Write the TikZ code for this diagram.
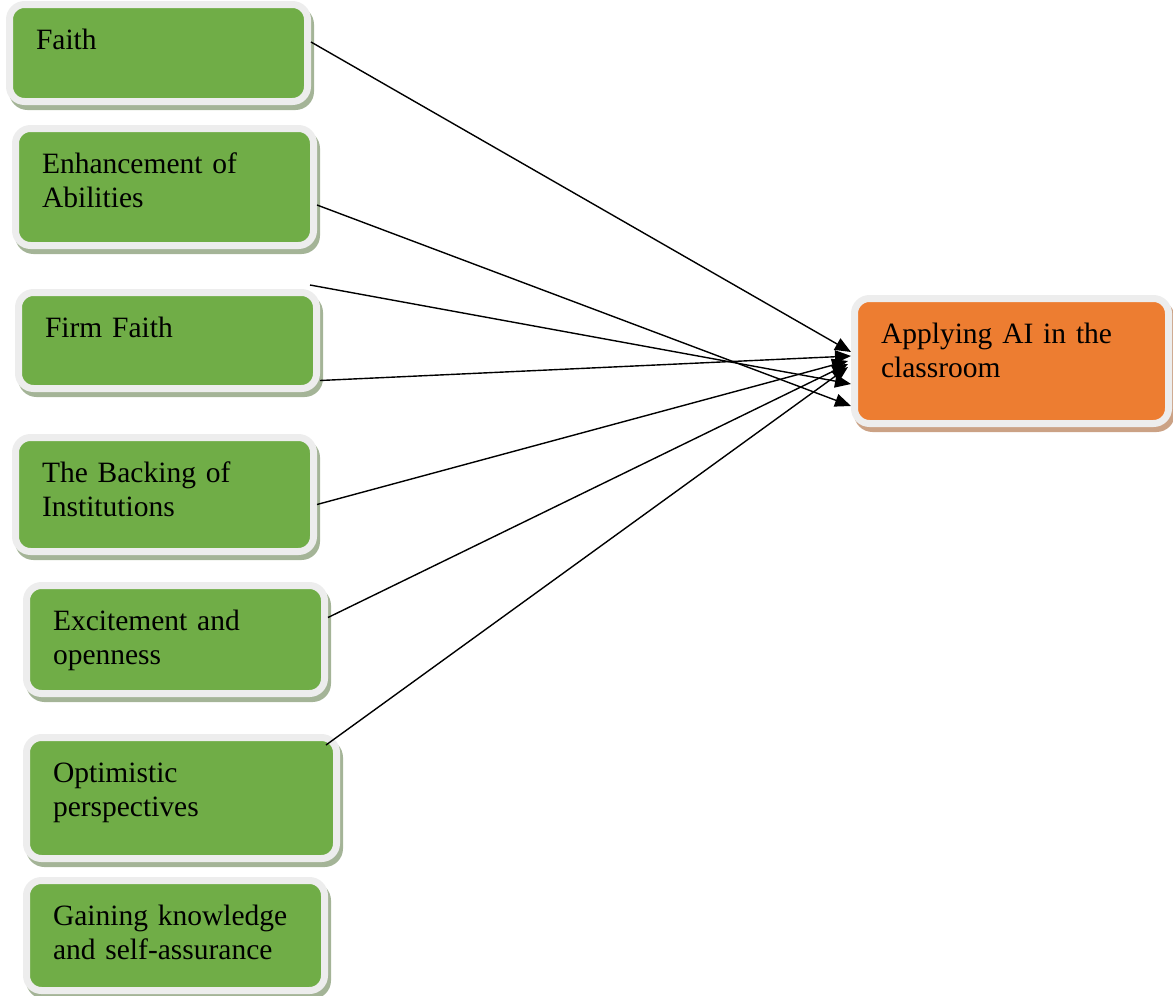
\documentclass[tikz,border=0pt]{standalone}
\usepackage{fontspec}
\setmainfont{Liberation Serif}
\usetikzlibrary{arrows.meta,shadows}
\definecolor{leafgreen}{HTML}{70AD47}
\definecolor{deeporange}{HTML}{ED7D31}
\definecolor{rimgray}{HTML}{EDEDED}
\definecolor{greenshade}{HTML}{A4B497}
\definecolor{orangeshade}{HTML}{CBA285}

\begin{document}
\begin{tikzpicture}[x=1pt,y=-1pt,
    card/.style={rectangle, rounded corners=15pt, draw=rimgray, line width=7pt,
      fill=leafgreen, anchor=north west, align=left,
      inner xsep=26.5pt, inner ysep=0pt, text width=245pt, text height=45pt,
      font=\fontsize{29.5}{34}\selectfont,
      drop shadow={shadow xshift=3pt, shadow yshift=-5pt, opacity=1,
        fill=#1, draw=#1, line width=7pt}},
    card/.default=greenshade,
    link/.style={-{Triangle[length=16pt,width=13pt]}, line width=1.4pt}]
  \useasboundingbox (0,0) rectangle (1173,996);

  % factors on the left
  \node[card, text depth=52pt] (faith) at (6,1) {Faith};
  \node[card, text depth=72pt] (abil) at (12,125) {Enhancement of\\Abilities};
  \node[card, text depth=51pt] (firm) at (15,289) {Firm Faith};
  \node[card, text depth=69pt] (inst) at (12,434) {The Backing of\\Institutions};
  \node[card, text depth=63pt] (excite) at (23,582) {Excitement and\\openness};
  \node[card, text depth=76pt, text width=257pt] (optim) at (23,734) {Optimistic\\perspectives};
  \node[card, text depth=65pt] (gain) at (23,877) {Gaining knowledge\\and self-assurance};

  % outcome
  \node[card=orangeshade, fill=deeporange, text depth=80pt, text width=261pt] (apply) at (851,295)
    {Applying AI in the\\classroom};

  \coordinate (loose) at (310,285);

  \draw[link] ([yshift=11pt]faith.east) -- ([yshift=9pt]apply.west);
  \draw[link] ([yshift=-18pt]abil.east) -- ([yshift=-45pt]apply.west);
  \draw[link] (loose) -- ([yshift=-23pt]apply.west);
  \draw[link] ([yshift=-40pt]firm.east) -- ([yshift=5pt]apply.west);
  \draw[link] ([yshift=-10pt]inst.east) -- ([shift={(-3pt,0pt)}]apply.west);
  \draw[link] ([yshift=22pt]excite.east) -- ([shift={(-3pt,-3pt)}]apply.west);
  \draw[link] ([shift={(-14pt,-11pt)}]optim.north east) -- ([shift={(-3pt,-6pt)}]apply.west);
\end{tikzpicture}
\end{document}
